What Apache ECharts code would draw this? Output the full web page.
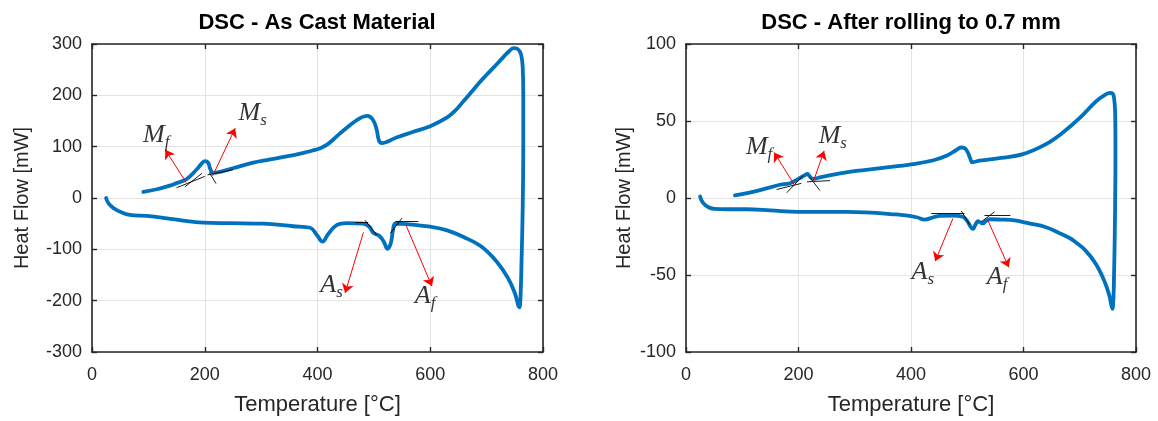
<!DOCTYPE html>
<html>
<head>
<meta charset="utf-8">
<script src="https://cdn.jsdelivr.net/npm/echarts@6/dist/echarts.min.js"></script>
<style>html,body{margin:0;padding:0;background:#fff}#c{width:1158px;height:421px}</style>
</head>
<body>
<div id="c"></div>
<script>
// ---- Data (temperature [°C], heat flow [mW]) ----
const titles = ['DSC - As Cast Material', 'DSC - After rolling to 0.7 mm'];
const xTicks = [0, 200, 400, 600, 800];
const yTicksLeft = [-300, -200, -100, 0, 100, 200, 300];
const yTicksRight = [-100, -50, 0, 50, 100];

// As cast: heating (lower branch) then cooling (upper branch)
const leftLoop = [
  [25,0],[28,-8],[33,-15],[40,-21],[50,-27],[67,-33],[97,-35],[130,-39],[156,-43],[197,-48],[245,-49],[304,-50],[357,-55],[387,-58],[399,-72],[409,-85],[419,-70],[434,-53],[452,-49],[481,-50],[492,-56],[499,-68],[510,-74],[518,-86],[524,-99],[530,-88],[534,-62],[538,-50],[560,-51],[600,-56],[630,-63],[659,-76],[690,-94],[718,-124],[738,-156],[750,-185],[758,-213],
  [760,-195],[762,-120],[764,-20],[765,100],[765,200],[764,255],[762,275],[759,285],[754,291],[748,292],[740,286],
  [730,275],[720,263],[700,240],[688,226],[675,209],[660,190],[645,171],[630,157],[600,140],[570,129],[540,118],[514,107],[509,112],[505,133],[498,153],[488,160],[478,157],[465,148],[452,137],[440,126],[428,114],[417,104],[405,97],[390,92],[375,88],[345,81],[310,74],[286,69],[250,58],[227,51],[215,49],[210,56],[206,69],[200,72],[193,65],[186,56],[168,37],[150,29],[138,24],[115,17],[91,12]
];
// After rolling to 0.7 mm
const rightLoop = [
  [25,1],[30,-3],[40,-6],[50,-7],[75,-7.3],[108,-7.3],[150,-8],[199,-9],[285,-9],[374,-10.7],[410,-12.5],[424,-14],[440,-12.5],[451,-11.6],[475,-11.5],[492,-12.2],[500,-15],[510,-20],[515,-17],[519,-15],[523,-15.8],[528,-16.5],[533,-15],[540,-13.8],[560,-14],[581,-14.4],[610,-16.5],[640,-19],[665,-23],[682,-26],[690,-28],[710,-34],[729,-43],[745,-55],[753,-64],[758,-72],
  [760,-64],[761,-49],[762,-30],[763,0],[763.5,30],[763,55],[761,65],[758,68],[754,68.2],[745,67],
  [729,62.8],[700,52],[670,42.5],[640,35],[599,28.5],[560,26],[522,24.2],[509,23.2],[505,26],[501,29.6],[495,32.5],[489,32.8],[480,31],[463,27.4],[440,24.5],[403,22],[350,19.5],[285,16.7],[240,13.5],[226,12.4],[220,14],[216,15.6],[210,14.5],[202,12.9],[185,9.6],[167,8.6],[130,5],[87,1.7]
];

// Annotations in data coordinates: [x1, y1, x2, y2]
const leftTangents = [[150,20,200,42],[165,22,195,48],[205,45,250,55],[208,50,220,28],[467,-47,490,-47],[484,-43,505,-72],[538,-45,579,-45],[529,-69,550,-39]];
const leftArrows = [[167,30,130,94],[214,43,254,136],[481.5,-67,449,-185],[557,-53,603,-172]];
const leftLabels = [['M','f',114,123],['M','s',285,165],['A','s',425,-169],['A','f',591,-191]];
const rightTangents = [[161,5.5,205,9.5],[179,3.4,208,14.5],[215,10.5,256,11.3],[220,13.5,238,4.9],[436,-9.9,495,-9.9],[489.5,-8.4,504.6,-17.6],[530.6,-11.2,576.7,-11.2],[524.7,-15.5,548.4,-9]];
const rightArrows = [[193.4,8.1,156.7,29.6],[226,10.3,245.5,30.6],[474.5,-13.3,443,-41],[536.5,-14.4,573.8,-45]];
const rightLabels = [['M','f',130,32.8],['M','s',261,40.3],['A','s',421,-48.3],['A','f',553,-51.5]];

// ---- Styling / layout ----
const AX = '#262626';
const tickFont = {fontFamily:'Liberation Sans, Arial', fontSize:18, color:AX};
const nameFont = {fontFamily:'Liberation Sans, Arial', fontSize:21, color:AX};
const grids = [
  {left:92, top:44, width:451, height:312},
  {left:686, top:44, width:450, height:311}
];
const yRanges = [[-300,300,100],[-100,100,50]];

const xAxes = [], yAxes = [];
grids.forEach((g, i) => {
  const line = {show:true, lineStyle:{color:AX, width:1.6}};
  const tick = {show:true, inside:true, length:5, lineStyle:{color:AX, width:1.4}};
  xAxes.push({type:'value', gridIndex:i, position:'bottom', min:0, max:800, interval:200,
    axisLine:{...line, onZero:false}, axisTick:tick,
    axisLabel:{...tickFont, margin:14},
    splitLine:{show:true, lineStyle:{color:'#e3e3e3', width:1}},
    name:'Temperature [°C]', nameLocation:'middle', nameGap:42, nameTextStyle:{...nameFont, fontSize:22}});
  xAxes.push({type:'value', gridIndex:i, position:'top', min:0, max:800, interval:200,
    axisLine:{...line, onZero:false}, axisTick:tick, axisLabel:{show:false}, splitLine:{show:false}});
  const [mn, mx, iv] = yRanges[i];
  yAxes.push({type:'value', gridIndex:i, position:'left', min:mn, max:mx, interval:iv,
    axisLine:{...line, onZero:false}, axisTick:tick,
    axisLabel:{...tickFont, margin:10},
    splitLine:{show:true, lineStyle:{color:'#e3e3e3', width:1}},
    name:'Heat Flow [mW]', nameLocation:'middle', nameGap:i===0?60:52, nameTextStyle:{...nameFont, fontSize:20}});
  yAxes.push({type:'value', gridIndex:i, position:'right', min:mn, max:mx, interval:iv,
    axisLine:{...line, onZero:false}, axisTick:tick, axisLabel:{show:false}, splitLine:{show:false}});
});

function segs(list, style, arrow) {
  return list.map(s => [
    {coord:[s[0], s[1]], symbol:'none'},
    {coord:[s[2], s[3]], symbol: arrow ? 'arrow' : 'none', symbolSize: arrow ? 9 : 0, lineStyle:style}
  ]);
}
const rich = {
  b:{fontFamily:'Liberation Serif, Times New Roman, serif', fontStyle:'italic', fontSize:26, color:'#000', lineHeight:32},
  s:{fontFamily:'Liberation Serif, Times New Roman, serif', fontStyle:'italic', fontSize:17, color:'#000', lineHeight:17, verticalAlign:'bottom'}
};

const series = [];
[[leftLoop, leftTangents, leftArrows, leftLabels], [rightLoop, rightTangents, rightArrows, rightLabels]].forEach((set, i) => {
  const [loop, tang, arr, labs] = set;
  series.push({type:'line', xAxisIndex:2*i, yAxisIndex:2*i, data:loop, showSymbol:false, symbol:'none',
    smooth:0.4, lineStyle:{color:'#0072BD', width:3.8, cap:'round', join:'round'}, z:3, silent:true});
  series.push({type:'line', xAxisIndex:2*i, yAxisIndex:2*i, data:[], silent:true, z:4,
    markLine:{silent:true, animation:false, symbol:['none','none'], label:{show:false},
      lineStyle:{color:'#000', width:0.9, type:'solid'},
      data:segs(tang, {color:'#000', width:0.9, type:'solid'}, false)}});
  series.push({type:'line', xAxisIndex:2*i, yAxisIndex:2*i, data:[], silent:true, z:5,
    markLine:{silent:true, animation:false, symbol:['none','arrow'], symbolSize:9, label:{show:false},
      lineStyle:{color:'#ff0000', width:1, type:'solid'},
      data:segs(arr, {color:'#ff0000', width:1, type:'solid'}, true)}});
  series.push({type:'scatter', xAxisIndex:2*i, yAxisIndex:2*i, symbolSize:0, silent:true, z:6,
    data:labs.map(l => ({value:[l[2], l[3]], sym:l[0], sub:l[1]})),
    label:{show:true, position:'inside', formatter:p => '{b|' + p.data.sym + '}{s|' + p.data.sub + '}', rich:rich}});
});

const chart = echarts.init(document.getElementById('c'), null, {renderer:'canvas'});
chart.setOption({
  animation:false,
  backgroundColor:'#fff',
  grid:grids,
  xAxis:xAxes,
  yAxis:yAxes,
  series:series,
  graphic:[
    {type:'text', x:317, y:23, style:{text:titles[0], textAlign:'center', textVerticalAlign:'middle', font:'bold 22px "Liberation Sans", Arial', fill:'#000'}},
    {type:'text', x:911, y:23, style:{text:titles[1], textAlign:'center', textVerticalAlign:'middle', font:'bold 22px "Liberation Sans", Arial', fill:'#000'}}
  ]
});
</script>
</body>
</html>
